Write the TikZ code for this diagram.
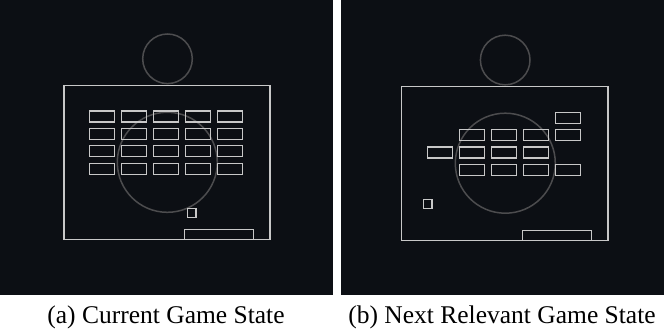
\documentclass[tikz,border=0pt]{standalone}
\usepackage{fontspec}
\setmainfont{Liberation Serif}
\definecolor{screen}{HTML}{0C0F14}
\definecolor{wall}{HTML}{C8C8C8}
\definecolor{ring}{HTML}{4C4C4E}
\tikzset{
  panel/.style={fill=screen, draw=none},
  wallline/.style={draw=wall, line width=1.3pt},
  brick/.style={draw=wall, line width=1.4pt},
  ringline/.style={draw=ring, line width=1.5pt},
  caption/.style={anchor=base, font=\fontsize{25.5}{28}\selectfont, inner sep=0pt}
}
\begin{document}
\begin{tikzpicture}[x=1pt,y=-1pt]
\useasboundingbox (0,0) rectangle (664,332);
\fill[white] (0,0) rectangle (664,332);

% ---------- (a) current state ----------
\fill[panel] (0,0) rectangle (333,295);
\draw[ringline] (167.5,58.8) circle[radius=24.8];
\draw[ringline] (167.3,162.3) circle[radius=50];
\draw[wallline] (64,85.5) rectangle (270,239.3);
\foreach \x in {89.7,121.3,153.3,185.3,217.3}
  \foreach \y in {111,128.3,145.7,163.3}
    \draw[brick] (\x,\y) rectangle ++(25,11);
\draw[brick] (187.5,208.7) rectangle ++(8.5,8.7);
\draw[brick] (184.3,239.3) -- (184.3,229.3) -- (253.3,229.3) -- (253.3,239.3);

% ---------- (b) next relevant state ----------
\fill[panel] (341,0) rectangle (664,295);
\draw[ringline] (505.2,60) circle[radius=24.8];
\draw[ringline] (505.3,163.2) circle[radius=50];
\draw[wallline] (401.7,86.3) rectangle (608,240.7);
\draw[brick] (555.3,112.3) rectangle ++(25,11);
\foreach \x in {459.7,491.3,523.3,555.3}
  \draw[brick] (\x,129.7) rectangle ++(25,11);
\foreach \x in {427.7,459.7,491.3,523.3}
  \draw[brick] (\x,147) rectangle ++(25,11);
\foreach \x in {459.7,491.3,523.3,555.3}
  \draw[brick] (\x,164.7) rectangle ++(25,11);
\draw[brick] (423.5,199.5) rectangle ++(8.5,8.7);
\draw[brick] (522.3,240.7) -- (522.3,230.3) -- (591.3,230.3) -- (591.3,240.7);

% ---------- captions ----------
\node[caption] (capa) at (166,323) {(a) Current Game State};
\node[caption] (capb) at (502,323) {(b) Next Relevant Game State};
\end{tikzpicture}
\end{document}
